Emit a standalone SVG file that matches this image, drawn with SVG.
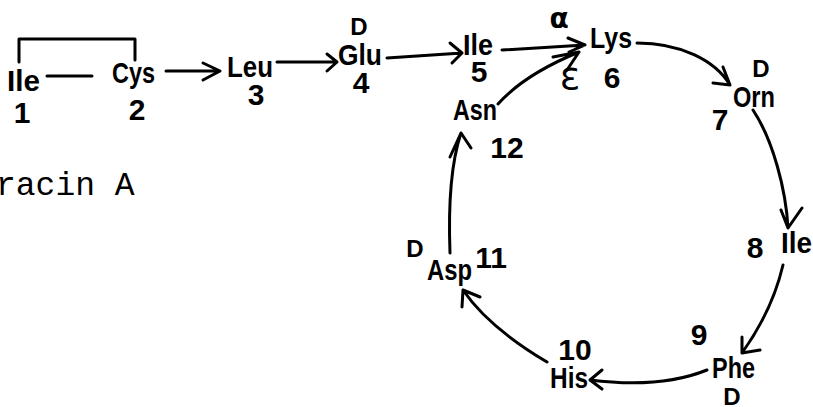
<svg xmlns="http://www.w3.org/2000/svg" width="813" height="407" viewBox="0 0 813 407">
<style>
  .aa{font-family:"Liberation Sans",Arial,sans-serif;font-weight:bold;font-size:30px;fill:#000}
  .num{font-family:"Liberation Sans",Arial,sans-serif;font-weight:bold;font-size:30px;fill:#000;text-anchor:middle}
  .d{font-family:"Liberation Sans",Arial,sans-serif;font-weight:bold;font-size:24px;fill:#000;text-anchor:middle}
  .gr{font-family:"DejaVu Sans",sans-serif;fill:#000;text-anchor:middle}
  .cap{font-family:"Liberation Mono","Courier New",monospace;font-size:33px;fill:#000}
  .ln{fill:none;stroke:#000;stroke-width:3;stroke-linecap:round;stroke-linejoin:round}
</style>
<rect width="813" height="407" fill="#fff"/>
<g id="connectors">
  <path class="ln" d="M19,62 V39 H135 V60"/>
  <path class="ln" d="M47,76 H92"/>
  <path class="ln" d="M166,71 H220 M203,63 L220,71 L203,80"/>
  <path class="ln" d="M277,62 H337 M327,54 L337,62 L327,71"/>
  <path class="ln" d="M387,58 L462,53 M450,43 L462,53 L452,63"/>
  <path class="ln" d="M502,50 L585,45 M568,38 L585,45 L569,52"/>
  <path class="ln" d="M498,104 C515,85 540,68 579,52 M553,57 L579,52 L567,70"/>
  <path class="ln" d="M637,43 C680,43 715,60 730,85 M723,67 L730,85 L713,83"/>
  <path class="ln" d="M753,110 C773,140 786,190 788,228 M781,210 L788,228 L802,208"/>
  <path class="ln" d="M783,265 C776,295 762,325 742,353 M742,337 L742,353 L760,350"/>
  <path class="ln" d="M707,370 C670,385 630,385 590,380 M602,370 L590,380 L602,389"/>
  <path class="ln" d="M547,362 C510,340 480,315 463,290 M462,307 L463,290 L480,297"/>
  <path class="ln" d="M450,253 C448,200 452,160 461,133 M450,157 L461,133 L471,148"/>
</g>
<g id="n1"><text class="aa" x="7" y="91" textLength="33" lengthAdjust="spacingAndGlyphs">Ile</text><text class="num" x="22" y="123">1</text></g>
<g id="n2"><text class="aa" x="112" y="83" textLength="43" lengthAdjust="spacingAndGlyphs">Cys</text><text class="num" x="137" y="120">2</text></g>
<g id="n3"><text class="aa" x="227" y="77" textLength="46" lengthAdjust="spacingAndGlyphs">Leu</text><text class="num" x="256" y="105">3</text></g>
<g id="n4"><text class="d" x="359" y="35">D</text><text class="aa" x="338" y="65" textLength="44" lengthAdjust="spacingAndGlyphs">Glu</text><text class="num" x="361" y="93">4</text></g>
<g id="n5"><text class="aa" x="463" y="55" textLength="30" lengthAdjust="spacingAndGlyphs">Ile</text><text class="num" x="479" y="82">5</text></g>
<g id="n6"><text class="gr" x="559" y="28" font-size="28" font-weight="bold">α</text><text class="aa" x="590" y="48" textLength="42" lengthAdjust="spacingAndGlyphs">Lys</text><text class="gr" x="570" y="89" font-size="38">ε</text><text class="num" x="612" y="88">6</text></g>
<g id="n7"><text class="d" x="761" y="77">D</text><text class="aa" x="733" y="107" textLength="42" lengthAdjust="spacingAndGlyphs">Orn</text><text class="num" x="720" y="130">7</text></g>
<g id="n8"><text class="num" x="755" y="258">8</text><text class="aa" x="781" y="253" textLength="31" lengthAdjust="spacingAndGlyphs">Ile</text></g>
<g id="n9"><text class="num" x="699" y="345">9</text><text class="aa" x="712" y="378" textLength="43" lengthAdjust="spacingAndGlyphs">Phe</text><text class="d" x="732" y="405">D</text></g>
<g id="n10"><text class="num" x="575" y="360">10</text><text class="aa" x="550" y="388" textLength="38" lengthAdjust="spacingAndGlyphs">His</text></g>
<g id="n11"><text class="d" x="415" y="257">D</text><text class="aa" x="427" y="280" textLength="45" lengthAdjust="spacingAndGlyphs">Asp</text><text class="num" x="491" y="268">11</text></g>
<g id="n12"><text class="aa" x="453" y="120" textLength="44" lengthAdjust="spacingAndGlyphs">Asn</text><text class="num" x="507" y="158">12</text></g>
<g id="caption"><text class="cap" x="-4" y="195">racin A</text></g>
</svg>
